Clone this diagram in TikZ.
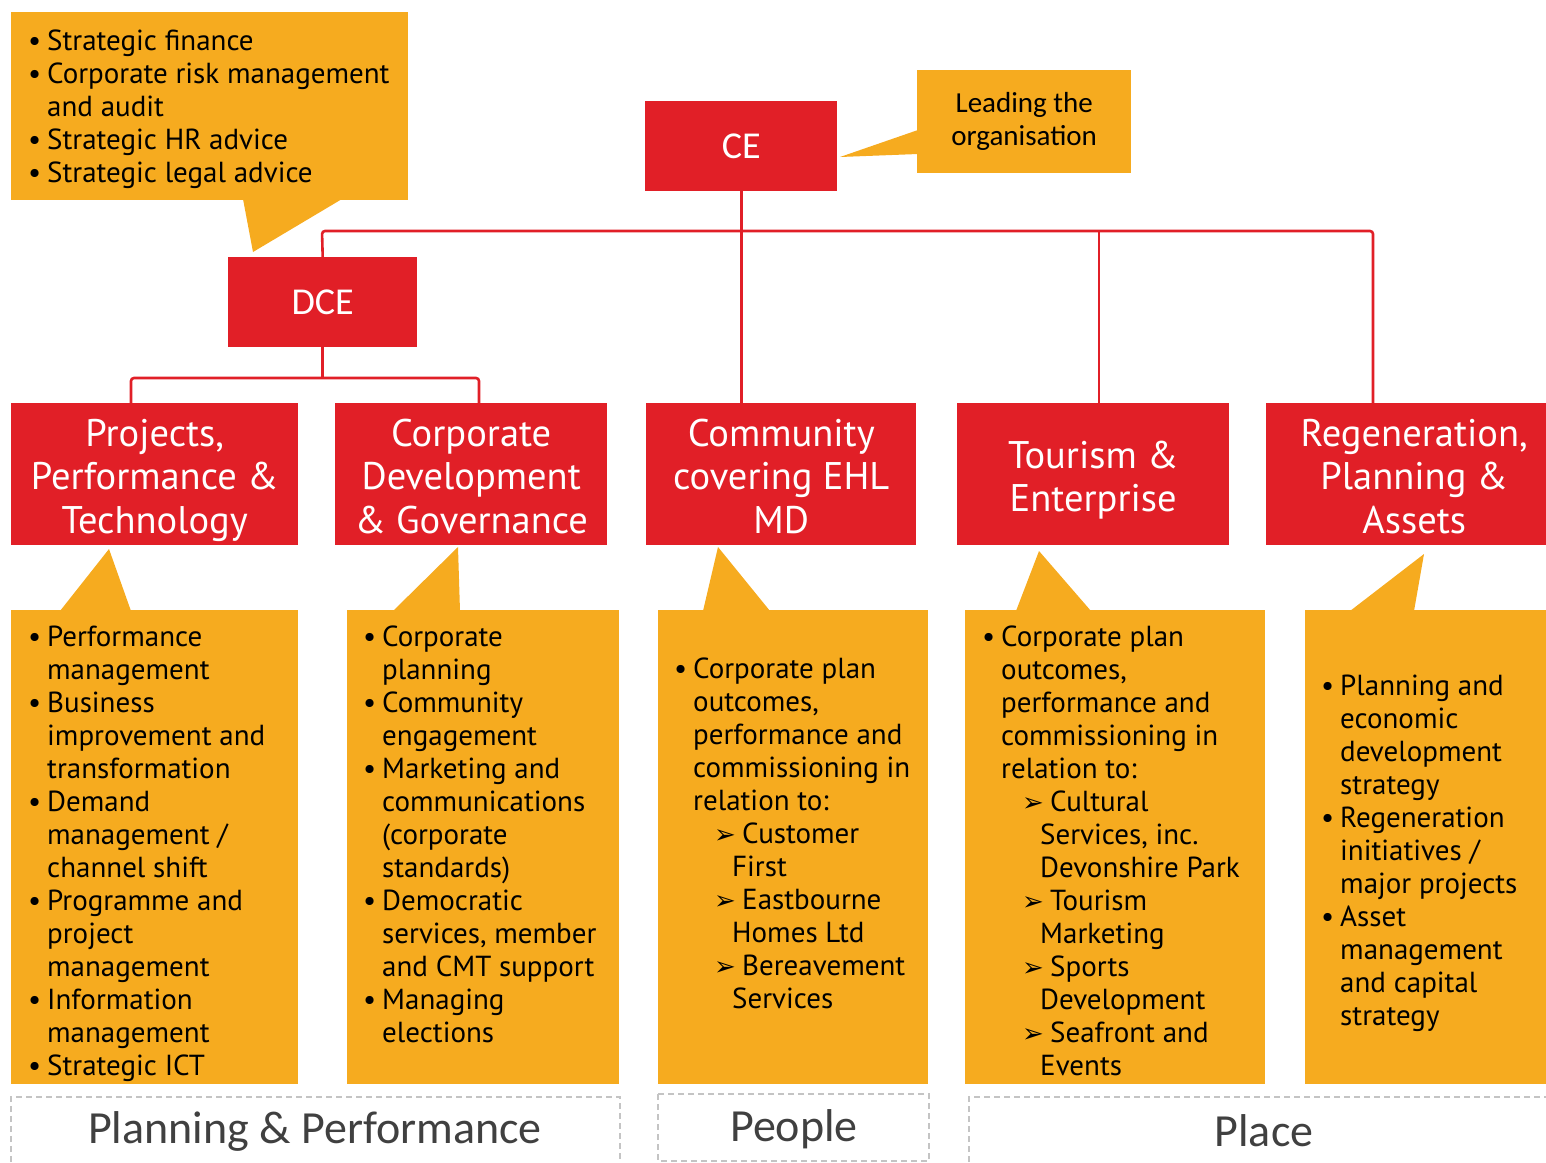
\documentclass[tikz,border=0pt]{standalone}
\usepackage{fontspec}
\setmainfont{PT Sans}
\newfontfamily\condf{Carlito}
\newfontfamily\symf{DejaVu Sans}
\definecolor{ebred}{HTML}{E11F27}
\definecolor{eborange}{HTML}{F6AB1F}
\definecolor{ebgrey}{HTML}{C4C4C4}
\definecolor{ebtext}{HTML}{404040}
% list helpers: bullet, continuation, sub-item arrow, sub-item continuation
\newcommand\bul{\makebox[19pt][l]{•}}
\newcommand\cont{\hspace*{19pt}}
\newcommand\subitm{\hspace*{40pt}\makebox[28pt][l]{\symf\fontsize{26}{33}\selectfont ➢}}
\newcommand\subcont{\hspace*{58pt}}
\tikzset{
  redbox/.style={fill=ebred, draw=none, inner sep=0pt, anchor=north west, text=white},
  orangebox/.style={fill=eborange, draw=none, inner sep=0pt, anchor=north west},
  tail/.style={fill=eborange, draw=none},
  link/.style={draw=ebred, line width=2.6pt, rounded corners=3pt},
  bodytext/.style={anchor=north west, inner sep=0pt, align=left, font=\fontsize{29}{33}\selectfont, text=black},
  headtext/.style={align=center, inner sep=0pt, text=white, yshift=-7pt, font=\fontsize{38.5}{43.5}\selectfont},
  group/.style={draw=ebgrey, dash pattern=on 6pt off 4pt, line width=1.6pt},
  grouptext/.style={font=\condf\fontsize{46}{50}\selectfont, text=ebtext},
}
\begin{document}
\begin{tikzpicture}[x=1pt,y=-1pt]
\useasboundingbox (0,0) rectangle (1546,1162);

% ---------- top management ----------
\node[redbox, minimum width=192pt, minimum height=90pt, font=\condf\fontsize{38}{44}\selectfont] (ce) at (645,101) {CE};
\node[redbox, minimum width=189pt, minimum height=90pt, font=\condf\fontsize{38}{44}\selectfont] (dce) at (228,257) {DCE};

% ---------- directorates ----------
\node[redbox, minimum width=287pt, minimum height=142pt] (ppt) at (11,403) {};
\node[redbox, minimum width=272pt, minimum height=142pt] (cdg) at (335,403) {};
\node[redbox, minimum width=270pt, minimum height=142pt] (com) at (646,403) {};
\node[redbox, minimum width=272pt, minimum height=142pt] (tour) at (957,403) {};
\node[redbox, minimum width=280pt, minimum height=142pt] (rpa) at (1266,403) {};
\node[headtext] (pptx) at (ppt.center) {\strut Projects,\\Performance \&\\Technology\strut};
\node[headtext] (cdgx) at (cdg.center) {\strut Corporate\\Development\\\& Governance\strut};
\node[headtext] (comx) at (com.center) {\strut Community\\covering EHL\\MD\strut};
\node[headtext] (tourx) at (tour.center) {\strut Tourism \&\\Enterprise\strut};
\node[headtext] (rpax) at ([xshift=8pt]rpa.center) {\strut Regeneration,\\Planning \&\\Assets\strut};

% ---------- reporting lines ----------
\coordinate (busL) at (322,231);
\coordinate (busT) at (1099,231);
\coordinate (busR) at (1373,231);
\coordinate (dbL) at (131,378);
\coordinate (dbR) at (479,378);
\draw[link] (ce.south) -- (ce.south |- com.north);
\draw[link] (dce.north) -- (busL) -- (busR) -- (busR |- rpa.north);
\draw[link] (busT) -- (busT |- tour.north);
\draw[link] (dce.south) -- (dce.south |- dbL);
\draw[link] (dbL |- ppt.north) -- (dbL) -- (dbR) -- (dbR |- cdg.north);

% ---------- callouts ----------
\node[orangebox, minimum width=397pt, minimum height=188pt] (ob0) at (11,12) {};
\fill[tail] (243,199) -- (253,252) -- (342,199) -- cycle;
\node[orangebox, minimum width=214pt, minimum height=103pt] (lead) at (917,70) {};
\fill[tail] (918,130) -- (840,157) -- (918,154) -- cycle;
\node[orangebox, minimum width=287pt, minimum height=474pt] (ob1) at (11,610) {};
\fill[tail] (60,611) -- (109,549) -- (131,611) -- cycle;
\node[orangebox, minimum width=272pt, minimum height=474pt] (ob2) at (347,610) {};
\fill[tail] (393,611) -- (458,547) -- (460,611) -- cycle;
\node[orangebox, minimum width=270pt, minimum height=474pt] (ob3) at (658,610) {};
\fill[tail] (703,611) -- (718,547) -- (770,611) -- cycle;
\node[orangebox, minimum width=300pt, minimum height=474pt] (ob4) at (965,610) {};
\fill[tail] (1016,611) -- (1039,551) -- (1091,611) -- cycle;
\node[orangebox, minimum width=241pt, minimum height=474pt] (ob5) at (1305,610) {};
\fill[tail] (1350,611) -- (1424,554) -- (1414,611) -- cycle;

% ---------- callout texts ----------
\node[bodytext] (t0) at (28,27) {\strut\bul Strategic finance\\
\bul Corporate risk management\\
\cont and audit\\
\bul Strategic HR advice\\
\bul Strategic legal advice};

\node[align=center, font=\condf\fontsize{29}{33}\selectfont] (tlead) at (lead.center) {Leading the\\organisation};

\node[bodytext] (t1) at (28,623) {\strut\bul Performance\\
\cont management\\
\bul Business\\
\cont improvement and\\
\cont transformation\\
\bul Demand\\
\cont management /\\
\cont channel shift\\
\bul Programme and\\
\cont project\\
\cont management\\
\bul Information\\
\cont management\\
\bul Strategic ICT};

\node[bodytext] (t2) at (363,623) {\strut\bul Corporate\\
\cont planning\\
\bul Community\\
\cont engagement\\
\bul Marketing and\\
\cont communications\\
\cont (corporate\\
\cont standards)\\
\bul Democratic\\
\cont services, member\\
\cont and CMT support\\
\bul Managing\\
\cont elections};

\node[bodytext] (t3) at (674,655) {\strut\bul Corporate plan\\
\cont outcomes,\\
\cont performance and\\
\cont commissioning in\\
\cont relation to:\\
\subitm Customer\\
\subcont First\\
\subitm Eastbourne\\
\subcont Homes Ltd\\
\subitm Bereavement\\
\subcont Services};

\node[bodytext] (t4) at (982,623) {\strut\bul Corporate plan\\
\cont outcomes,\\
\cont performance and\\
\cont commissioning in\\
\cont relation to:\\
\subitm Cultural\\
\subcont Services, inc.\\
\subcont Devonshire Park\\
\subitm Tourism\\
\subcont Marketing\\
\subitm Sports\\
\subcont Development\\
\subitm Seafront and\\
\subcont Events};

\node[bodytext] (t5) at (1321,672) {\strut\bul Planning and\\
\cont economic\\
\cont development\\
\cont strategy\\
\bul Regeneration\\
\cont initiatives /\\
\cont major projects\\
\bul Asset\\
\cont management\\
\cont and capital\\
\cont strategy};

% ---------- groupings ----------
\draw[group] (11,1162) -- (11,1097) -- (620,1097) -- (620,1162);
\draw[group] (658,1094) rectangle (929,1161);
\draw[group] (969,1162) -- (969,1097) -- (1546,1097);
\node[grouptext] (gpp) at (315,1131) {Planning \& Performance};
\node[grouptext] (gpe) at (794,1129) {People};
\node[grouptext] (gpl) at (1264,1131) {Place};
\end{tikzpicture}
\end{document}
